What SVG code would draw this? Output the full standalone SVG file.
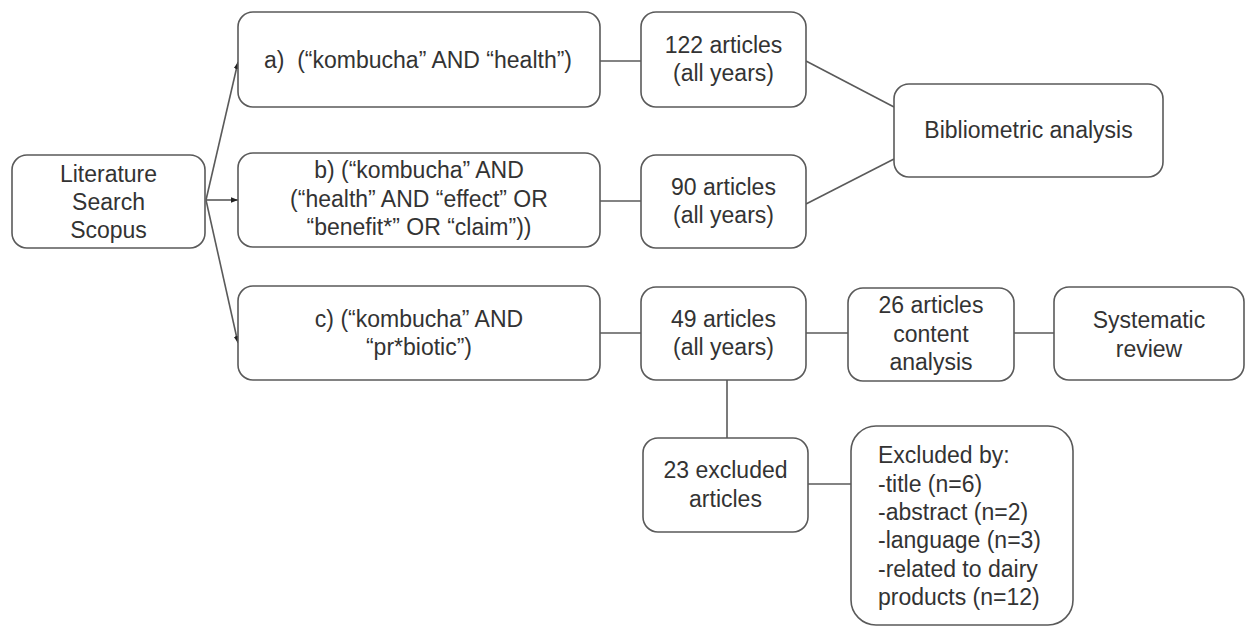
<svg xmlns="http://www.w3.org/2000/svg" width="1253" height="628" viewBox="0 0 1253 628">
<style>
.box{fill:#fff;stroke:#5a5a5a;stroke-width:1.6}
.t{font-family:"Liberation Sans",Arial,sans-serif;font-size:23px;fill:#333;text-anchor:middle}
.l{text-anchor:start}
.c{stroke:#5a5a5a;stroke-width:1.6;fill:none}
</style>
<defs>
<marker id="ah" viewBox="0 0 10 10" refX="10" refY="5" markerWidth="7" markerHeight="7" markerUnits="userSpaceOnUse" orient="auto">
<path d="M0,1 L10,5 L0,9 z" fill="#222"/>
</marker>
</defs>
<rect width="1253" height="628" fill="#fff"/>
<g id="connectors">
<line class="c" x1="206" y1="200" x2="238" y2="62" marker-end="url(#ah)"/>
<line class="c" x1="206" y1="200" x2="238" y2="200" marker-end="url(#ah)"/>
<line class="c" x1="206" y1="200" x2="238" y2="343" marker-end="url(#ah)"/>
<line class="c" x1="600" y1="61" x2="641" y2="61"/>
<line class="c" x1="600" y1="201" x2="641" y2="201"/>
<line class="c" x1="600" y1="333" x2="641" y2="333"/>
<line class="c" x1="806" y1="61" x2="894" y2="107"/>
<line class="c" x1="806" y1="204" x2="894" y2="159"/>
<line class="c" x1="806" y1="333" x2="848" y2="333"/>
<line class="c" x1="1014" y1="333" x2="1054" y2="333"/>
<line class="c" x1="727" y1="380" x2="727" y2="438"/>
<line class="c" x1="808" y1="484" x2="851" y2="484"/>
</g>
<g id="lit">
<rect class="box" x="12" y="155" width="193" height="93" rx="15"/>
<text class="t" x="108.5" y="182">Literature</text>
<text class="t" x="108.5" y="210">Search</text>
<text class="t" x="108.5" y="238">Scopus</text>
</g>
<g id="qa">
<rect class="box" x="238" y="12" width="362" height="95" rx="15"/>
<text class="t" x="418" y="68" xml:space="preserve">a)  (“kombucha” AND “health”)</text>
</g>
<g id="qb">
<rect class="box" x="238" y="153" width="362" height="94" rx="15"/>
<text class="t" x="419" y="178">b) (“kombucha” AND</text>
<text class="t" x="419" y="207">(“health” AND “effect” OR</text>
<text class="t" x="419" y="235">“benefit*” OR “claim”))</text>
</g>
<g id="qc">
<rect class="box" x="238" y="286" width="362" height="94" rx="15"/>
<text class="t" x="419" y="327">c) (“kombucha” AND</text>
<text class="t" x="419" y="355">“pr*biotic”)</text>
</g>
<g id="n122">
<rect class="box" x="641" y="12" width="165" height="95" rx="15"/>
<text class="t" x="723.5" y="53">122 articles</text>
<text class="t" x="723.5" y="81">(all years)</text>
</g>
<g id="n90">
<rect class="box" x="641" y="155" width="165" height="93" rx="15"/>
<text class="t" x="723.5" y="195">90 articles</text>
<text class="t" x="723.5" y="223">(all years)</text>
</g>
<g id="n49">
<rect class="box" x="641" y="287" width="165" height="93" rx="15"/>
<text class="t" x="723.5" y="327">49 articles</text>
<text class="t" x="723.5" y="355">(all years)</text>
</g>
<g id="bib">
<rect class="box" x="894" y="84" width="269" height="93" rx="15"/>
<text class="t" x="1028.5" y="138">Bibliometric analysis</text>
</g>
<g id="n26">
<rect class="box" x="848" y="288" width="166" height="93" rx="15"/>
<text class="t" x="931" y="313">26 articles</text>
<text class="t" x="931" y="342">content</text>
<text class="t" x="931" y="370">analysis</text>
</g>
<g id="sys">
<rect class="box" x="1054" y="287" width="190" height="93" rx="15"/>
<text class="t" x="1149" y="328">Systematic</text>
<text class="t" x="1149" y="357">review</text>
</g>
<g id="ex23">
<rect class="box" x="643" y="438" width="165" height="94" rx="15"/>
<text class="t" x="725.5" y="478">23 excluded</text>
<text class="t" x="725.5" y="507">articles</text>
</g>
<g id="exby">
<rect class="box" x="851" y="426" width="222" height="199" rx="25"/>
<text class="t l" x="878" y="463">Excluded by:</text>
<text class="t l" x="878" y="492">-title (n=6)</text>
<text class="t l" x="878" y="520">-abstract (n=2)</text>
<text class="t l" x="878" y="548">-language (n=3)</text>
<text class="t l" x="878" y="577">-related to dairy</text>
<text class="t l" x="878" y="605">products (n=12)</text>
</g>
</svg>
